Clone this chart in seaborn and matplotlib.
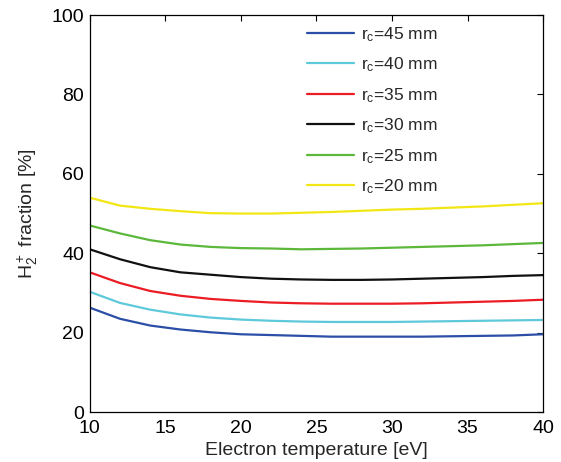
import matplotlib
matplotlib.use("Agg")
import matplotlib.pyplot as plt
import seaborn as sns
import pandas as pd

# 데이터
ELECTRON_TEMP = [10, 12, 14, 16, 18, 20, 22, 24, 26, 28, 30, 32, 34, 36, 38, 40]
RC_LABELS = ["45", "40", "35", "30", "25", "20"]

frac_45 = [26.3, 23.5, 21.8, 20.8, 20.1, 19.6, 19.4, 19.2, 19.0, 19.0, 19.0, 19.0, 19.1, 19.2, 19.3, 19.6]
frac_40 = [30.3, 27.5, 25.8, 24.6, 23.8, 23.3, 23.0, 22.8, 22.7, 22.7, 22.7, 22.8, 22.9, 23.0, 23.1, 23.2]
frac_35 = [35.2, 32.5, 30.5, 29.3, 28.5, 28.0, 27.6, 27.4, 27.3, 27.3, 27.3, 27.4, 27.6, 27.8, 28.0, 28.3]
frac_30 = [41.0, 38.5, 36.5, 35.2, 34.6, 34.0, 33.6, 33.4, 33.3, 33.3, 33.4, 33.6, 33.8, 34.0, 34.3, 34.5]
frac_25 = [47.0, 45.0, 43.3, 42.2, 41.6, 41.3, 41.2, 41.0, 41.1, 41.2, 41.4, 41.6, 41.8, 42.0, 42.3, 42.6]
frac_20 = [54.0, 52.0, 51.2, 50.6, 50.1, 50.0, 50.0, 50.2, 50.4, 50.7, 51.0, 51.2, 51.5, 51.8, 52.2, 52.6]

COLORS = ["#2b4ea6", "#5ec9da", "#ec1c24", "#111111", "#5cb83a", "#f2e614"]

# long-format 테이블
rows = []
for rc, vals in zip(RC_LABELS, [frac_45, frac_40, frac_35, frac_30, frac_25, frac_20]):
    for t, v in zip(ELECTRON_TEMP, vals):
        rows.append({"Te": t, "frac": v, "rc": r"r$_\mathregular{c}$=" + rc + " mm"})
df = pd.DataFrame(rows)

sns.set_style("white")
plt.rcParams["font.family"] = ["Liberation Sans", "DejaVu Sans"]
plt.rcParams["mathtext.fontset"] = "custom"
plt.rcParams["mathtext.rm"] = "Liberation Sans"
plt.rcParams["mathtext.it"] = "Liberation Sans"

fig = plt.figure(figsize=(5.61, 4.62), dpi=100)
ax = fig.add_axes([0.160, 0.108, 0.808, 0.8595])

sns.lineplot(data=df, x="Te", y="frac", hue="rc", palette=COLORS, linewidth=1.6, ax=ax)

ax.set_xlim(10, 40)
ax.set_ylim(0, 100)
ax.set_xticks([10, 15, 20, 25, 30, 35, 40])
ax.set_yticks([0, 20, 40, 60, 80, 100])
ax.tick_params(direction="in", length=4, width=0.8, top=True, right=True,
               labelsize=14, colors="black", pad=4)
ax.tick_params(axis="x", pad=6)
for s in ax.spines.values():
    s.set_color("black")
    s.set_linewidth(0.9)

ax.set_xlabel("Electron temperature [eV]", fontsize=14, labelpad=3)
ax.set_ylabel(r"H$_2^+$ fraction [%]", fontsize=14, labelpad=8)

ax.legend(loc="upper left", bbox_to_anchor=(0.479, 0.975), frameon=False, fontsize=12.5,
          handlelength=2.7, labelspacing=0.68, handletextpad=0.4,
          borderaxespad=0, borderpad=0)

plt.savefig("out.png", dpi=100)
